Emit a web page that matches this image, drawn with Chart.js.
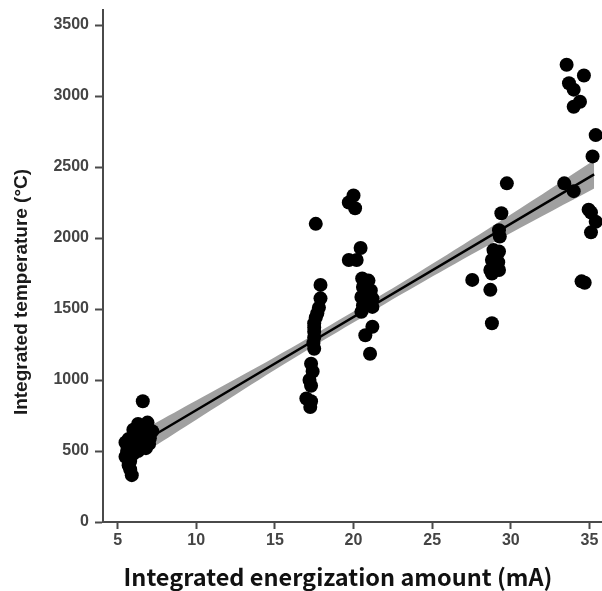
<!DOCTYPE html>
<html>
<head>
<meta charset="utf-8">
<script src="https://cdn.jsdelivr.net/npm/chart.js@4/dist/chart.umd.min.js"></script>
<style>
  html, body { margin: 0; padding: 0; background: #fff; }
  #wrap { width: 602px; height: 591px; position: relative; }
</style>
</head>
<body>
<div id="wrap"><canvas id="c" width="602" height="591"></canvas></div>
<script>
// ---- data ----
const pointX = [
  5.9, 5.8, 5.7, 5.8, 5.5, 5.6, 6.0, 5.5, 5.7, 5.9, 6.3, 6.8, 7.0, 7.05, 6.1, 6.0, 6.3, 6.5, 6.9, 7.2, 6.5, 6.6, 6.2, 6.6,
  17.6, 17.9, 17.9, 17.8, 17.7, 17.6, 17.5, 17.5, 17.5, 17.5, 17.45, 17.5, 17.3, 17.4, 17.2, 17.3, 17.0, 17.3, 17.25,
  19.7, 20.0, 20.1, 20.45, 19.7, 20.2, 20.55, 20.95, 20.6, 21.1, 20.5, 21.2, 20.6, 21.2, 20.5, 21.2, 20.75, 21.05,
  29.75, 29.4, 29.25, 29.3, 28.9, 29.25, 28.8, 29.2, 28.7, 29.25, 28.8, 27.55, 28.7, 28.8,
  33.55, 34.65, 33.7, 34.0, 34.4, 34.0, 35.4, 35.2, 33.4, 34.0, 34.95, 35.1, 35.4, 35.1, 34.5, 34.7
];
const pointY = [
  330, 370, 400, 430, 460, 500, 480, 560, 585, 540, 500, 520, 550, 590, 620, 650, 690, 670, 700, 640, 600, 850, 580, 540,
  2100, 1670, 1575, 1510, 1470, 1440, 1400, 1370, 1340, 1300, 1260, 1220, 1115, 1060, 1000, 960, 870, 850, 810,
  2250, 2300, 2210, 1930, 1845, 1845, 1715, 1700, 1655, 1630, 1585, 1575, 1525, 1515, 1480, 1375, 1315, 1185,
  2385, 2175, 2055, 2010, 1915, 1905, 1845, 1830, 1775, 1775, 1750, 1705, 1635, 1400,
  3220, 3145, 3090, 3045, 2960, 2925, 2725, 2575, 2385, 2330, 2200, 2180, 2115, 2040, 1695, 1685
];
const fitX = [7.2, 35.3];
const fitY = [604, 2448];
const bandX = [7.2, 10, 14, 18, 22, 26, 30, 35.3];
const bandUpper = [684, 855, 1098, 1352, 1614, 1886, 2165, 2548];
const bandLower = [524, 721, 1002, 1274, 1536, 1790, 2035, 2348];
const xTickLabels = [5, 10, 15, 20, 25, 30, 35];
const yTickLabels = [0, 500, 1000, 1500, 2000, 2500, 3000, 3500];
const xTitle = 'Integrated energization amount (mA)';
const yTitle = 'Integrated temperature (°C)';

// ---- build ----
const toXY = (xs, ys) => xs.map((x, i) => ({ x: x, y: ys[i] }));

const titlePlugin = {
  id: 'axisTitles',
  afterDraw(chart) {
    const ctx = chart.ctx;
    ctx.save();
    ctx.fillStyle = '#1a1a1a';
    ctx.textAlign = 'center';
    ctx.textBaseline = 'middle';
    ctx.font = 'bold 19px "Liberation Sans", Arial, sans-serif';
    ctx.translate(22, 292);
    ctx.rotate(-Math.PI / 2);
    ctx.fillText(yTitle, 0, 0);
    ctx.restore();
    ctx.save();
    ctx.fillStyle = '#111';
    ctx.textAlign = 'center';
    ctx.textBaseline = 'middle';
    ctx.font = 'bold 23.5px "Noto Sans CJK JP", "Noto Sans", sans-serif';
    ctx.fillText(xTitle, 338, 577);
    ctx.restore();
  }
};

const axisColor = '#4a4a4a';
const tickFont = { family: 'Liberation Sans', size: 16, weight: 'bold' };

new Chart(document.getElementById('c'), {
  type: 'scatter',
  data: {
    datasets: [
      {
        label: 'points',
        data: toXY(pointX, pointY),
        backgroundColor: '#000',
        borderWidth: 0,
        pointRadius: 7,
        pointHoverRadius: 7,
        order: 0
      },
      {
        label: 'fit',
        data: toXY(fitX, fitY),
        showLine: true,
        borderColor: '#000',
        borderWidth: 2.5,
        pointRadius: 0,
        fill: false,
        order: 1
      },
      {
        label: 'upper',
        data: toXY(bandX, bandUpper),
        showLine: true,
        borderWidth: 0,
        borderColor: 'rgba(0,0,0,0)',
        backgroundColor: '#a0a0a0',
        pointRadius: 0,
        tension: 0.3,
        fill: '+1',
        order: 2
      },
      {
        label: 'lower',
        data: toXY(bandX, bandLower),
        showLine: true,
        borderWidth: 0,
        borderColor: 'rgba(0,0,0,0)',
        pointRadius: 0,
        tension: 0.3,
        fill: false,
        order: 3
      }
    ]
  },
  options: {
    responsive: false,
    animation: false,
    layout: { autoPadding: false, padding: { top: 10, right: 0, left: 0, bottom: 0 } },
    plugins: { legend: { display: false }, tooltip: { enabled: false } },
    scales: {
      x: {
        type: 'linear',
        min: 4.07,
        max: 35.8,
        afterBuildTicks(scale) { scale.ticks = xTickLabels.map(v => ({ value: v })); },
        afterFit(scale) { scale.height = 69; scale.paddingRight = 0; },
        border: { display: true, color: axisColor, width: 2 },
        grid: { drawOnChartArea: false, drawTicks: true, tickLength: 7, tickColor: axisColor, tickWidth: 2 },
        ticks: { color: '#444', font: tickFont, padding: 2, maxRotation: 0, callback: v => String(v) },
        title: { display: false }
      },
      y: {
        type: 'linear',
        min: 0,
        max: 3606,
        afterBuildTicks(scale) { scale.ticks = yTickLabels.map(v => ({ value: v })); },
        afterFit(scale) { scale.width = 103; scale.paddingTop = 0; scale.paddingBottom = 0; },
        border: { display: true, color: axisColor, width: 2 },
        grid: { drawOnChartArea: false, drawTicks: true, tickLength: 8, tickColor: axisColor, tickWidth: 2 },
        ticks: { color: '#444', font: tickFont, padding: 6, callback: v => String(v) },
        title: { display: false }
      }
    }
  },
  plugins: [titlePlugin]
});
</script>
</body>
</html>
